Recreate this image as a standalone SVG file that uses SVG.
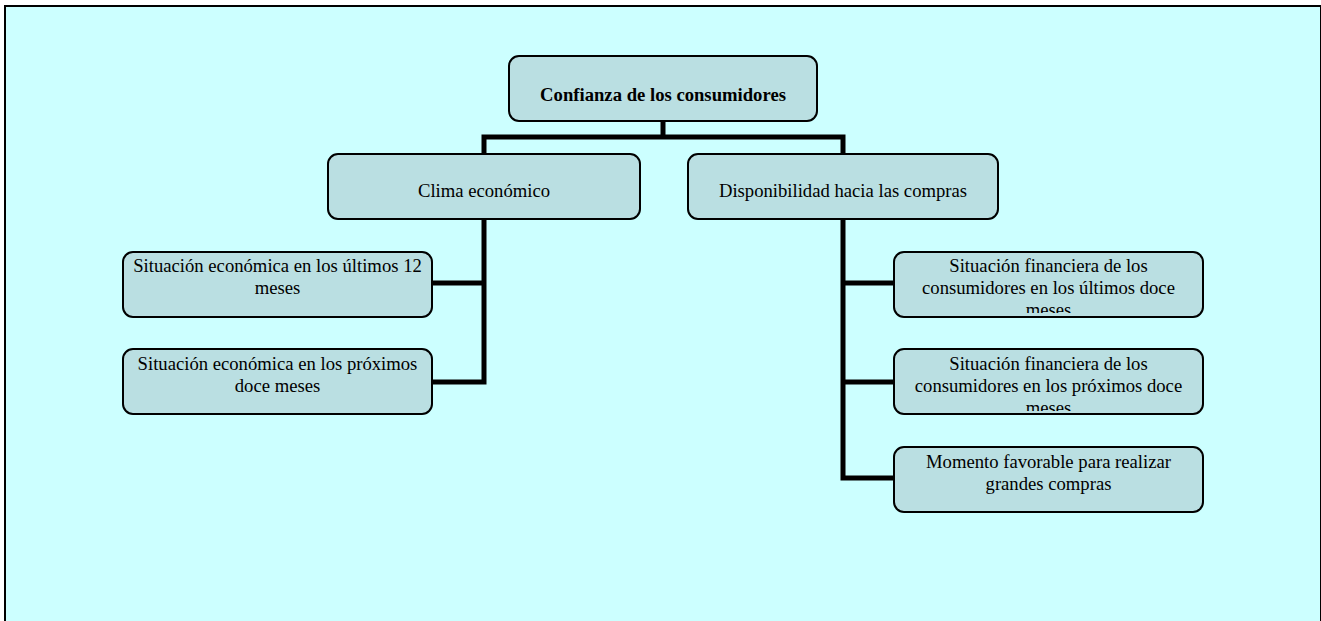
<svg xmlns="http://www.w3.org/2000/svg" width="1321" height="621" viewBox="0 0 1321 621">
  <style>
    .box { fill: #BADFE2; stroke: #000; stroke-width: 2; }
    .t { font-family: "Liberation Serif", "Times New Roman", serif; font-size: 18.67px; fill: #000; text-anchor: middle; }
    .b { font-weight: bold; }
    .conn { stroke: #000; stroke-width: 5; fill: none; stroke-linejoin: miter; stroke-linecap: butt; }
  </style>
  <defs>
    <clipPath id="cR1"><rect x="895" y="253" width="307" height="60"/></clipPath>
    <clipPath id="cR2"><rect x="895" y="350" width="307" height="61"/></clipPath>
  </defs>
  <rect x="0" y="0" width="1321" height="621" fill="#FFFFFF"/>
  <rect x="5" y="6" width="1316" height="640" fill="#CCFFFF" stroke="#000" stroke-width="2"/>

  <g id="connectors">
    <polyline class="conn" points="663,121 663,137"/>
    <polyline class="conn" points="484,154 484,137 843,137 843,154"/>
    <polyline class="conn" points="484,219 484,382 432,382"/>
    <polyline class="conn" points="484,283 432,283"/>
    <polyline class="conn" points="843,219 843,478 894,478"/>
    <polyline class="conn" points="843,283 894,283"/>
    <polyline class="conn" points="843,382 894,382"/>
  </g>

  <g id="root">
    <rect class="box" x="509" y="56" width="308" height="65" rx="10"/>
    <text class="t b" x="663" y="101">Confianza de los consumidores</text>
  </g>

  <g id="clima">
    <rect class="box" x="328" y="154" width="312" height="65" rx="10"/>
    <text class="t" x="484" y="197">Clima económico</text>
  </g>

  <g id="disponibilidad">
    <rect class="box" x="688" y="154" width="310" height="65" rx="10"/>
    <text class="t" x="843" y="197">Disponibilidad hacia las compras</text>
  </g>

  <g id="eco-ultimos">
    <rect class="box" x="123" y="252" width="309" height="65" rx="10"/>
    <text class="t" x="277.5" y="272">Situación económica en los últimos 12</text>
    <text class="t" x="277.5" y="294">meses</text>
  </g>

  <g id="eco-proximos">
    <rect class="box" x="123" y="349" width="309" height="65" rx="10"/>
    <text class="t" x="277.5" y="370">Situación económica en los próximos</text>
    <text class="t" x="277.5" y="392">doce meses</text>
  </g>

  <g id="fin-ultimos">
    <rect class="box" x="894" y="252" width="309" height="65" rx="10"/>
    <g clip-path="url(#cR1)">
      <text class="t" x="1048.5" y="272">Situación financiera de los</text>
      <text class="t" x="1048.5" y="294">consumidores en los últimos doce</text>
      <text class="t" x="1048.5" y="316">meses</text>
    </g>
  </g>

  <g id="fin-proximos">
    <rect class="box" x="894" y="349" width="309" height="65" rx="10"/>
    <g clip-path="url(#cR2)">
      <text class="t" x="1048.5" y="370">Situación financiera de los</text>
      <text class="t" x="1048.5" y="392">consumidores en los próximos doce</text>
      <text class="t" x="1048.5" y="414">meses</text>
    </g>
  </g>

  <g id="momento">
    <rect class="box" x="894" y="447" width="309" height="65" rx="10"/>
    <text class="t" x="1048.5" y="468">Momento favorable para realizar</text>
    <text class="t" x="1048.5" y="490">grandes compras</text>
  </g>
</svg>
